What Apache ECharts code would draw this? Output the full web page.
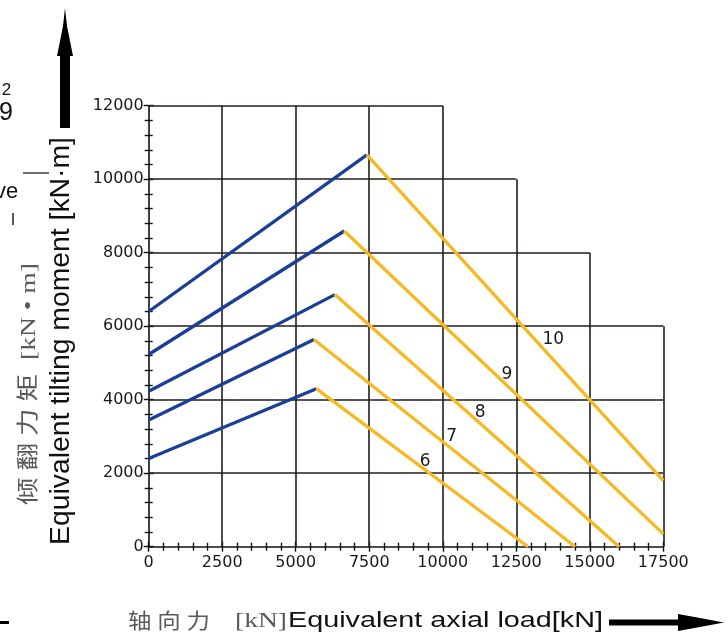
<!DOCTYPE html>
<html>
<head>
<meta charset="utf-8">
<script src="https://cdn.jsdelivr.net/npm/echarts@6/dist/echarts.min.js"></script>
<style>
html,body{margin:0;padding:0;background:#fff;}
#chart{width:727px;height:638px;}
</style>
</head>
<body>
<div id="chart"></div>
<script>
// ---- data ----
const curveNames = ['6', '7', '8', '9', '10'];
const blueStartY = [2400, 3450, 4230, 5230, 6400];
const peakX = [5700, 5620, 6330, 6650, 7420];
const peakY = [4300, 5640, 6860, 8590, 10660];
const endX = [12900, 14500, 16000, 17500, 17500];
const endY = [0, 0, 0, 350, 1800];
const labelX = [9400, 10300, 11270, 12180, 13760];
const labelY = [2320, 3010, 3650, 4680, 5640];

// stepped grid
const gridYValues = [2000, 4000, 6000, 8000, 10000, 12000];
const gridYReachX = [17500, 17500, 17500, 15000, 12500, 10000];
const gridXValues = [2500, 5000, 7500, 10000, 12500, 15000, 17500];
const gridXReachY = [12000, 12000, 12000, 12000, 10000, 8000, 6000];

const xMin = 0, xMax = 17500, xStep = 2500;
const yMin = 0, yMax = 12000, yStep = 2000;

// ---- helpers ----
function measure(text, font) {
  const c = document.createElement('canvas').getContext('2d');
  c.font = font;
  return c.measureText(text).width;
}

const chart = echarts.init(document.getElementById('chart'), null, {renderer: 'canvas'});

const gridLines = [];
gridYValues.forEach((y, i) => gridLines.push({coords: [[xMin, y], [gridYReachX[i], y]]}));
gridXValues.forEach((x, i) => gridLines.push({coords: [[x, yMin], [x, gridXReachY[i]]]}));

const BLUE = '#1b3f99';
const YELLOW = '#f6b823';

const series = [{
  type: 'lines',
  coordinateSystem: 'cartesian2d',
  silent: true,
  z: 1,
  lineStyle: {color: '#231d19', width: 1.6, opacity: 1},
  data: gridLines
}];

curveNames.forEach((name, i) => {
  series.push({
    type: 'line', name: 'up' + name, z: 3,
    showSymbol: false, symbol: 'none',
    lineStyle: {color: BLUE, width: 3.3},
    data: [[0, blueStartY[i]], [peakX[i], peakY[i]]]
  });
  series.push({
    type: 'line', name: 'down' + name, z: 4,
    showSymbol: false, symbol: 'none',
    lineStyle: {color: YELLOW, width: 3.3},
    data: [[peakX[i], peakY[i]], [endX[i], endY[i]]],
    markPoint: {
      symbol: 'circle', symbolSize: 0,
      silent: true,
      label: {show: true, formatter: name, position: 'inside',
        fontFamily: 'DejaVu Sans', fontSize: 17, color: '#1a1a1a'},
      data: [{coord: [labelX[i], labelY[i]], value: name}]
    }
  });
});

const tickFont = 'DejaVu Sans';
const plain = v => String(v);
function makeX(inside, showLabel) {
  return {
    type: 'value', min: xMin, max: xMax, interval: xStep, position: 'bottom',
    axisLine: {show: !inside, onZero: false, lineStyle: {color: '#111', width: 1.6}},
    axisTick: {show: true, inside: inside, length: 5, lineStyle: {color: '#111', width: 1.4}},
    minorTick: {show: true, splitNumber: 5, length: 4, lineStyle: {color: '#111', width: 1.4}},
    axisLabel: {show: showLabel, formatter: plain, fontFamily: tickFont, fontSize: 16, color: '#1a1a1a', margin: 8},
    splitLine: {show: false}
  };
}
function makeY(inside, showLabel) {
  return {
    type: 'value', min: yMin, max: yMax, interval: yStep, position: 'left',
    axisLine: {show: !inside, onZero: false, lineStyle: {color: '#111', width: 1.6}},
    axisTick: {show: true, inside: inside, length: 5, lineStyle: {color: '#111', width: 1.4}},
    minorTick: {show: true, splitNumber: 5, length: 4, lineStyle: {color: '#111', width: 1.4}},
    axisLabel: {show: showLabel, formatter: plain, fontFamily: tickFont, fontSize: 16, color: '#1a1a1a', margin: 5},
    splitLine: {show: false}
  };
}

// titles sized to the reference extents
const enFont = '22px "Liberation Sans"';
const xTitleEn = 'Equivalent axial load[kN]';
const xTitleEnScale = 315 / measure(xTitleEn, enFont);
const yTitleEnFont = '27px "Liberation Sans"';
const yTitleEn = 'Equivalent tilting moment [kN·m]';
const yTitleEnScale = 408 / measure(yTitleEn, yTitleEnFont);
const cnFont = '21px "Liberation Serif", "Noto Sans CJK SC"';
const xTitleCn = '轴 向 力';
const xTitleCnScale = 82 / measure(xTitleCn, cnFont);
const xTitleKn = '[kN]';
const xTitleKnScale = 52 / measure(xTitleKn, cnFont);
const yTitleCnFont = '22px "Liberation Serif", "Noto Sans CJK SC"';
const yTitleCn = '倾 翻 力 矩  [kN • m]';
const yTitleCnScale = 242 / measure(yTitleCn, yTitleCnFont);

const graphic = [
  // x title
  {type: 'text', x: 169, y: 622, scaleX: xTitleCnScale, silent: true,
   style: {text: xTitleCn, font: cnFont, fill: '#5a5a5a', align: 'center', verticalAlign: 'middle'}},
  {type: 'text', x: 261, y: 621, scaleX: xTitleKnScale, silent: true,
   style: {text: xTitleKn, font: cnFont, fill: '#5a5a5a', align: 'center', verticalAlign: 'middle'}},
  {type: 'text', x: 445.5, y: 621, scaleX: xTitleEnScale, silent: true,
   style: {text: xTitleEn, font: enFont, fill: '#111', align: 'center', verticalAlign: 'middle'}},
  // y titles
  {type: 'text', x: 62, y: 341, rotation: Math.PI / 2, scaleX: yTitleEnScale, silent: true,
   style: {text: yTitleEn, font: yTitleEnFont, fill: '#111', align: 'center', verticalAlign: 'middle'}},
  {type: 'text', x: 29, y: 384, rotation: Math.PI / 2, scaleX: yTitleCnScale, silent: true,
   style: {text: yTitleCn, font: yTitleCnFont, fill: '#5a5a5a', align: 'center', verticalAlign: 'middle'}},
  // up arrow
  {type: 'rect', silent: true, shape: {x: 60, y: 52, width: 10, height: 76}, style: {fill: '#000'}},
  {type: 'polygon', silent: true,
   shape: {points: [[65, 8], [63, 26], [59, 46], [57, 56], [73, 56], [71, 46], [67, 26]]},
   style: {fill: '#000'}},
  // small artefact line near the y title
  {type: 'line', silent: true, shape: {x1: 23, y1: 173, x2: 49, y2: 173}, style: {stroke: '#222', lineWidth: 1.3}},
  // right arrow
  {type: 'rect', silent: true, shape: {x: 609, y: 619.5, width: 76, height: 6}, style: {fill: '#000'}},
  {type: 'polygon', silent: true,
   shape: {points: [[678, 614], [700, 618], [724, 622.5], [700, 627], [678, 631]]},
   style: {fill: '#000'}},
  // left-edge fragments
  {type: 'rect', silent: true, shape: {x: 0, y: 621, width: 9, height: 3}, style: {fill: '#000'}},
  {type: 'text', x: -3, y: 90, silent: true,
   style: {text: '.2', font: '17px "Liberation Sans"', fill: '#111', align: 'left', verticalAlign: 'middle'}},
  {type: 'text', x: -1, y: 113, silent: true,
   style: {text: '9', font: '25px "Liberation Sans"', fill: '#111', align: 'left', verticalAlign: 'middle'}},
  {type: 'text', x: -5, y: 192, silent: true,
   style: {text: 've', font: '22px "Liberation Sans"', fill: '#111', align: 'left', verticalAlign: 'middle'}},
  {type: 'line', silent: true, shape: {x1: 13, y1: 213, x2: 13, y2: 225}, style: {stroke: '#222', lineWidth: 1.5}}
];

chart.setOption({
  backgroundColor: '#fff',
  animation: false,
  grid: {left: 148.7, top: 105.7, right: 63.7, bottom: 91.3, containLabel: false},
  xAxis: [makeX(false, true), makeX(true, false)],
  yAxis: [makeY(false, true), makeY(true, false)],
  series: series,
  graphic: graphic
});
</script>
</body>
</html>
